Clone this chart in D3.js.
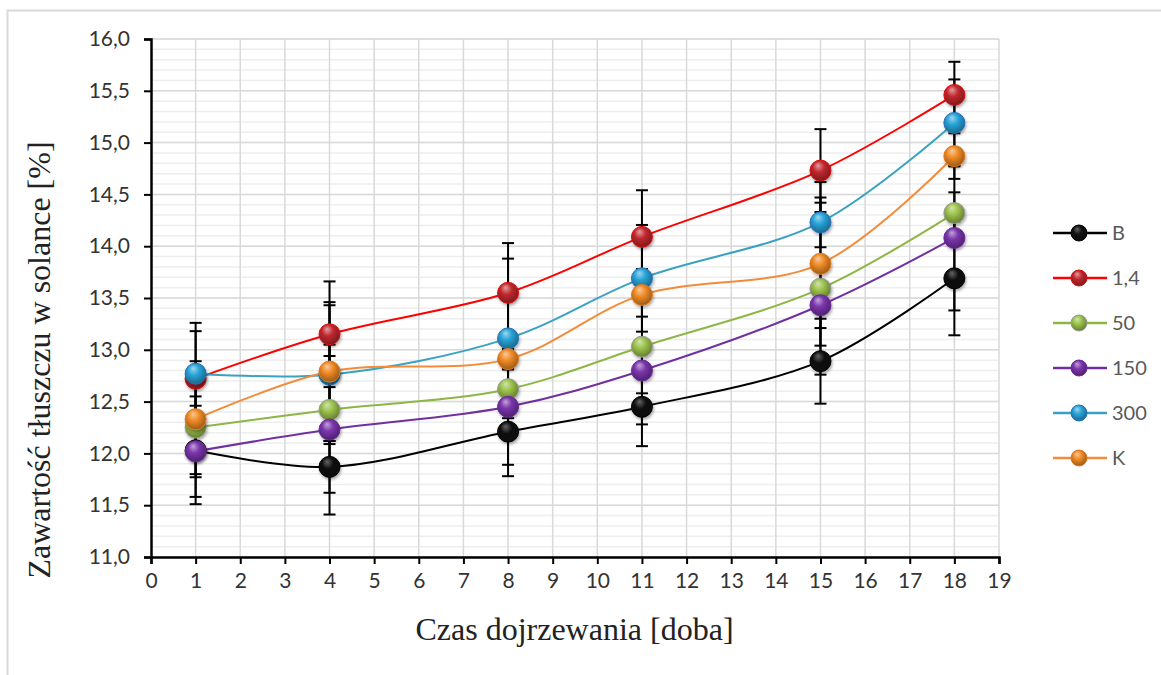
<!DOCTYPE html>
<html>
<head>
<meta charset="utf-8">
<script src="https://cdn.jsdelivr.net/npm/d3@7"></script>
<style>
  body { margin: 0; background: #fff; }
  svg { display: block; }
</style>
</head>
<body>
<svg id="chart" width="1161" height="675"></svg>
<script>
// data
var days = [1, 4, 8, 11, 15, 18];
var seriesNames = ["B", "1,4", "50", "150", "300", "K"];
var valB   = [12.03, 11.87, 12.21, 12.45, 12.89, 13.69];
var val14  = [12.72, 13.15, 13.55, 14.09, 14.73, 15.46];
var val50  = [12.25, 12.42, 12.62, 13.03, 13.59, 14.32];
var val150 = [12.02, 12.23, 12.45, 12.80, 13.43, 14.08];
var val300 = [12.77, 12.76, 13.11, 13.69, 14.23, 15.19];
var valK   = [12.33, 12.79, 12.91, 13.53, 13.83, 14.87];
var errB   = [0.52, 0.25, 0.43, 0.38, 0.41, 0.55];
var err14  = [0.54, 0.51, 0.48, 0.45, 0.40, 0.32];
var err50  = [0.45, 0.52, 0.20, 0.75, 0.83, 0.20];
var err150 = [0.44, 0.82, 0.56, 0.22, 0.22, 0.70];
var err300 = [0.41, 0.67, 0.77, 0.515, 0.24, 0.42];
var errK   = [0.56, 0.67, 0.10, 0.21, 0.79, 0.22];
var xTicks = d3.range(0, 20, 1);
var yTicks = d3.range(11, 16.01, 0.5);
var yMinor = d3.range(11, 16.01, 0.1);

var lineColors   = ["#000000", "#ff0000", "#8db645", "#7030a0", "#3aa2c0", "#f28c3a"];
var markerColors = ["#111111", "#c0282e", "#9bc24a", "#7a35ab", "#27a3d8", "#ef8a25"];
var markerRims   = ["#000000", "#e01010", "#9a9a9a", "#6a2a98", "#2a70b8", "#e07a20"];

(function () {
    var values = [valB, val14, val50, val150, val300, valK];
    var errors = [errB, err14, err50, err150, err300, errK];

    var series = seriesNames.map(function (name, i) {
        return {
            name: name,
            idx: i,
            points: days.map(function (d, j) {
                return { x: d, y: values[i][j], e: errors[i][j] };
            })
        };
    });

    var svg = d3.select("#chart");
    var plotLeft = 151, plotRight = 999, plotTop = 39, plotBottom = 557;
    var x = d3.scaleLinear().domain([0, 19]).range([plotLeft, plotRight]);
    var y = d3.scaleLinear().domain([11, 16]).range([plotBottom, plotTop]);
    var fmt = function (v) { return d3.format(".1f")(v).replace(".", ","); };

    // outer chart frame
    svg.append("rect")
        .attr("x", 7.5).attr("y", 10.5)
        .attr("width", 1170).attr("height", 700)
        .attr("fill", "#fff")
        .attr("stroke", "#d9d9d9").attr("stroke-width", 2);

    var defs = svg.append("defs");
    var shadow = defs.append("filter").attr("id", "shadow")
        .attr("x", "-50%").attr("y", "-50%").attr("width", "200%").attr("height", "200%");
    shadow.append("feDropShadow")
        .attr("dx", 1).attr("dy", 2).attr("stdDeviation", 1.6)
        .attr("flood-color", "#000").attr("flood-opacity", 0.35);

    markerColors.forEach(function (c, i) {
        var g = defs.append("radialGradient").attr("id", "ball" + i)
            .attr("cx", "45%").attr("cy", "40%").attr("r", "60%")
            .attr("fx", "38%").attr("fy", "25%");
        g.append("stop").attr("offset", "0%").attr("stop-color", d3.interpolateRgb(c, "#fff")(i === 0 ? 0.35 : 0.55));
        g.append("stop").attr("offset", "45%").attr("stop-color", c);
        g.append("stop").attr("offset", "100%").attr("stop-color", d3.interpolateRgb(c, "#000")(0.35));
    });

    // grid
    var grid = svg.append("g");
    grid.selectAll(".minor").data(yMinor).enter().append("line")
        .attr("x1", plotLeft).attr("x2", plotRight)
        .attr("y1", function (d) { return y(d); })
        .attr("y2", function (d) { return y(d); })
        .attr("stroke", "#eeeeee").attr("stroke-width", 1.5);
    grid.selectAll(".major").data(yTicks).enter().append("line")
        .attr("x1", plotLeft).attr("x2", plotRight)
        .attr("y1", function (d) { return y(d); })
        .attr("y2", function (d) { return y(d); })
        .attr("stroke", "#d9d9d9").attr("stroke-width", 1.5);
    grid.selectAll(".vert").data(xTicks.slice(1)).enter().append("line")
        .attr("x1", function (d) { return x(d); })
        .attr("x2", function (d) { return x(d); })
        .attr("y1", plotTop).attr("y2", plotBottom)
        .attr("stroke", "#d9d9d9").attr("stroke-width", 1.5);

    // error bars
    var eb = svg.append("g");
    series.forEach(function (s) {
        var g = eb.append("g");
        g.selectAll("line.v").data(s.points).enter().append("line")
            .attr("x1", function (d) { return x(d.x); })
            .attr("x2", function (d) { return x(d.x); })
            .attr("y1", function (d) { return y(d.y + d.e); })
            .attr("y2", function (d) { return y(d.y - d.e); })
            .attr("stroke", "#000").attr("stroke-width", 2);
        [1, -1].forEach(function (sign) {
            g.selectAll("line.c" + sign).data(s.points).enter().append("line")
                .attr("x1", function (d) { return x(d.x) - 6; })
                .attr("x2", function (d) { return x(d.x) + 6; })
                .attr("y1", function (d) { return y(d.y + sign * d.e); })
                .attr("y2", function (d) { return y(d.y + sign * d.e); })
                .attr("stroke", "#000").attr("stroke-width", 2);
        });
    });

    // lines
    var line = d3.line()
        .x(function (d) { return x(d.x); })
        .y(function (d) { return y(d.y); })
        .curve(d3.curveCatmullRom.alpha(0.5));
    svg.append("g").selectAll("path").data(series).enter().append("path")
        .attr("d", function (s) { return line(s.points); })
        .attr("fill", "none")
        .attr("stroke", function (s) { return lineColors[s.idx]; })
        .attr("stroke-width", 2);

    // markers
    series.forEach(function (s) {
        svg.append("g").selectAll("circle").data(s.points).enter().append("circle")
            .attr("cx", function (d) { return x(d.x); })
            .attr("cy", function (d) { return y(d.y); })
            .attr("r", 10.5)
            .attr("fill", "url(#ball" + s.idx + ")")
            .attr("stroke", markerRims[s.idx]).attr("stroke-width", 1)
            .attr("filter", "url(#shadow)");
    });

    // axes
    var xAxis = svg.append("g")
        .attr("transform", "translate(0," + plotBottom + ")")
        .call(d3.axisBottom(x).tickValues(xTicks).tickSize(7).tickPadding(9).tickFormat(d3.format("d")));
    var yAxis = svg.append("g")
        .attr("transform", "translate(" + plotLeft + ",0)")
        .call(d3.axisLeft(y).tickValues(yTicks).tickSize(7).tickPadding(14).tickFormat(fmt));
    [xAxis, yAxis].forEach(function (a) {
        a.select(".domain").attr("stroke", "#000").attr("stroke-width", 2.5);
        a.selectAll(".tick line").attr("stroke", "#000").attr("stroke-width", 2);
        a.selectAll(".tick text")
            .attr("font-family", "Lato, 'Open Sans', sans-serif")
            .attr("font-size", 21)
            .attr("fill", "#333");
    });

    // axis titles
    svg.append("text")
        .attr("x", (plotLeft + plotRight) / 2 - 0.5).attr("y", 640)
        .attr("text-anchor", "middle")
        .attr("font-family", "'Liberation Serif', 'Times New Roman', serif")
        .attr("font-size", 32).attr("fill", "#222")
        .text("Czas dojrzewania [doba]");
    svg.append("text")
        .attr("transform", "translate(50,360) rotate(-90)")
        .attr("text-anchor", "middle")
        .attr("font-family", "'Liberation Serif', 'Times New Roman', serif")
        .attr("font-size", 32).attr("fill", "#222")
        .text("Zawartość tłuszczu w solance [%]");

    // legend
    var legend = svg.append("g");
    var item = legend.selectAll("g").data(series).enter().append("g")
        .attr("transform", function (s) { return "translate(1053," + (233 + s.idx * 45) + ")"; });
    item.append("line")
        .attr("x1", 0).attr("x2", 54)
        .attr("stroke", function (s) { return lineColors[s.idx]; })
        .attr("stroke-width", 2.5);
    item.append("circle")
        .attr("cx", 26).attr("r", 8)
        .attr("fill", function (s) { return "url(#ball" + s.idx + ")"; })
        .attr("stroke", function (s) { return markerRims[s.idx]; })
        .attr("stroke-width", 1);
    item.append("text")
        .attr("x", 59).attr("y", 7)
        .attr("font-family", "Lato, 'Open Sans', sans-serif")
        .attr("font-size", 20).attr("fill", "#595959")
        .text(function (s) { return s.name; });
})();
</script>
</body>
</html>
